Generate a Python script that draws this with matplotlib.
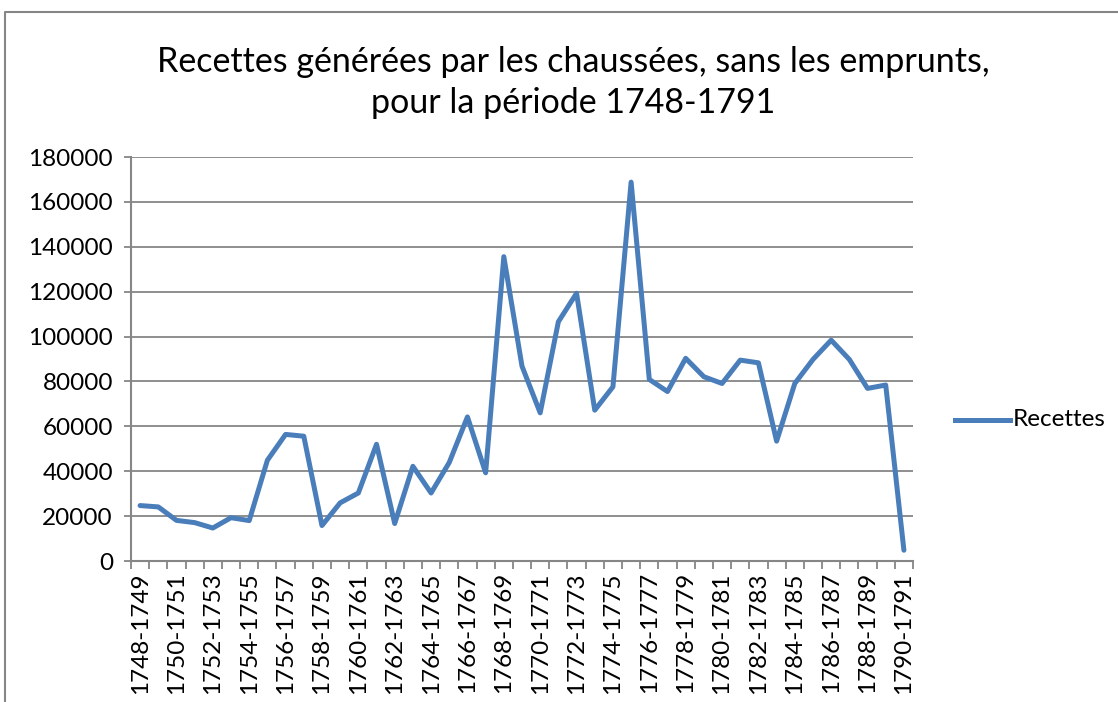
import matplotlib.pyplot as plt
from matplotlib.lines import Line2D

periods = [f"{y}-{y + 1}" for y in range(1748, 1791)]
recettes = [24700, 24100, 18100, 17100, 14700, 19300, 18000, 44900, 56400, 55600,
            15800, 25900, 30300, 52000, 16700, 42200, 30300, 43900, 64200, 39300,
            135600, 86800, 66000, 106600, 119300, 67200, 77600, 168800, 80900, 75500,
            90300, 82100, 79100, 89500, 88300, 53400, 79100, 89800, 98400, 89800,
            76900, 78400, 4800]
yticks = list(range(0, 180001, 20000))

plt.rcParams['font.family'] = ['Lato', 'DejaVu Sans']
blue = '#4a7ebb'
grey = '#868686'

fig = plt.figure(figsize=(11.18, 7.02), dpi=100)
ax = fig.add_axes([131 / 1118, 1 - 561 / 702, (913 - 131) / 1118, (561 - 157) / 702])

x = list(range(len(periods)))
ax.plot(x, recettes, color=blue, lw=3.6, solid_joinstyle='round', solid_capstyle='round')

ax.set_xlim(-0.5, len(periods) - 0.5)
ax.set_ylim(0, 180000)
ax.set_yticks(yticks)
ax.set_yticklabels([str(v) for v in yticks], fontsize=17.5)
ax.set_xticks(x[::2])
ax.set_xticklabels(periods[::2], rotation=90, fontsize=17.5)
ax.tick_params(axis='x', length=0, pad=8)
ax.set_xticks([i - 0.5 for i in range(len(periods) + 1)], minor=True)
ax.tick_params(axis='x', which='minor', length=6, width=1.3, color=grey)
ax.tick_params(axis='y', length=5, width=1.3, color=grey, pad=8)
ax.grid(axis='y', color=grey, lw=1.3)
ax.set_axisbelow(True)
for s in ['top', 'right']:
    ax.spines[s].set_visible(False)
for s in ['left', 'bottom']:
    ax.spines[s].set_color(grey)
    ax.spines[s].set_linewidth(1.5)

fig.text(573 / 1118, 1 - 62 / 702, "Recettes générées par les chaussées, sans les emprunts,",
         ha='center', va='center', fontsize=24.5)
fig.text(573 / 1118, 1 - 103 / 702, "pour la période 1748-1791",
         ha='center', va='center', fontsize=24.5)

# legend
fig.add_artist(Line2D([955 / 1118, 1010 / 1118], [1 - 420 / 702] * 2, color=blue, lw=3.6))
fig.text(1013 / 1118, 1 - 420 / 702, "Recettes", ha='left', va='center', fontsize=17.5)

# chart frame
fig.add_artist(Line2D([5 / 1118, 5 / 1118, 1.0], [0.0, 1 - 12 / 702, 1 - 12 / 702],
                      color=grey, lw=1.5))

fig.savefig("out.png", dpi=100)
